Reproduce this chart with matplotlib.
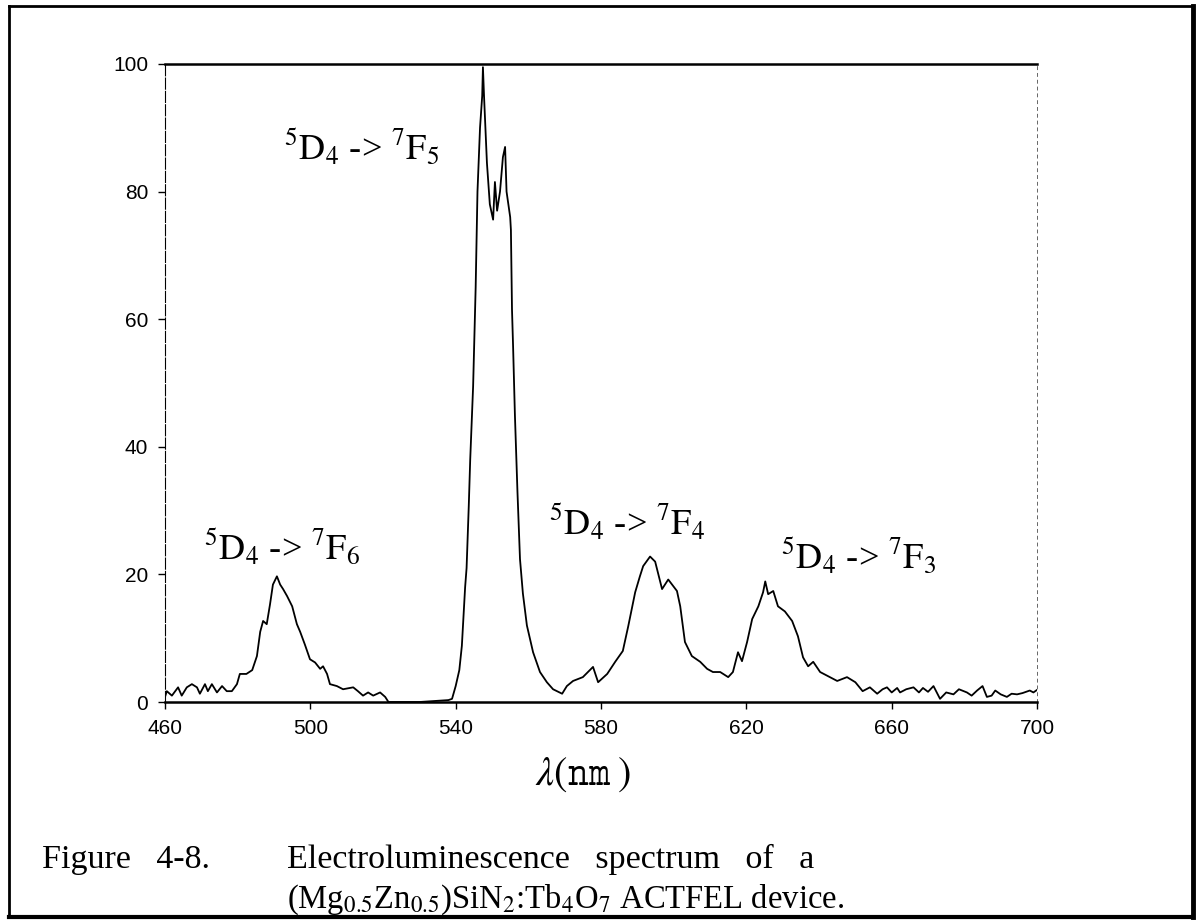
import matplotlib
matplotlib.use("Agg")
import matplotlib.pyplot as plt
from matplotlib.lines import Line2D

plt.rcParams["mathtext.fontset"] = "stix"

# EL spectrum (wavelength nm, intensity a.u.)
wavelength = [
    460, 460.5, 461.9, 463.6, 464.6, 466, 467.4, 468.8, 469.6, 471, 471.8, 472.9,
    474.3, 475.7, 477, 478.4, 479.8, 480.6, 482.4, 484, 485.3, 486.2, 487, 488,
    488.9, 489.7, 490.8, 491.7, 492.5, 493.6, 495, 496.3, 497.2, 498.5, 499.9,
    501.3, 502.7, 503.5, 504.6, 505.4, 507.3, 509, 511.8, 513.1, 514.5, 515.9,
    517.3, 519.2, 520.6, 521.5, 530, 538, 539, 540, 541, 541.7, 542.6, 543,
    543.6, 544, 544.8, 545.5, 546, 546.7, 547.3, 547.5, 547.8, 548.6, 549.4,
    550.3, 550.8, 551.4, 552.2, 553, 553.6, 554, 555, 555.2, 555.5, 555.8, 556.3,
    557, 557.7, 558.5, 559.6, 561.3, 563.2, 565.1, 566.8, 569.3, 570.6, 572.3,
    575, 577.8, 579.2, 581.7, 583.9, 586, 587.5, 588.8, 589.4, 590.7, 591.6,
    593.5, 594.9, 596.8, 598.5, 600.9, 601.8, 603.1, 605, 607.3, 609.2, 610.8,
    612.8, 615, 616.3, 617.7, 618.8, 620.2, 621.6, 623.3, 624.6, 625.2, 626,
    627.4, 628.7, 630.6, 632.6, 634.2, 635.6, 637, 638.4, 640.3, 643, 645,
    647.7, 650, 652, 654, 656, 657.5, 658.7, 660, 661.5, 662.3, 664, 666, 667.5,
    668.6, 670, 671.5, 673.3, 675, 677, 678.5, 680.7, 682, 683.5, 685, 686.2,
    687.5, 688.5, 690, 691.7, 693, 694.5, 696, 698, 699, 700,
]
intensity = [
    0.8, 1.7, 1.0, 2.3, 1.0, 2.3, 2.8, 2.3, 1.3, 2.8, 1.7, 2.8,
    1.5, 2.5, 1.7, 1.7, 2.8, 4.4, 4.4, 5.0, 7.2, 11.0, 12.7, 12.2,
    15.3, 18.4, 19.7, 18.4, 17.7, 16.6, 15.0, 12.2, 11.0, 9.0, 6.7,
    6.2, 5.2, 5.6, 4.4, 2.8, 2.5, 2.0, 2.3, 1.7, 1.0, 1.5,
    1.0, 1.5, 0.8, 0.0, 0.0, 0.3, 0.5, 2.5, 5.0, 8.8, 18.0, 21.0,
    30.7, 38.0, 49.5, 65.0, 80.0, 90.0, 95.0, 99.5, 95.0, 84.5, 78.0,
    75.6, 81.5, 77.0, 80.0, 85.4, 87.0, 80.0, 76.0, 74.0, 61.5, 55.7, 45.0,
    33.0, 22.4, 17.0, 12.0, 7.8, 4.7, 3.1, 2.0, 1.3, 2.5, 3.3,
    3.9, 5.5, 3.1, 4.4, 6.3, 8.0, 11.9, 15.5, 17.2, 19.7, 21.3,
    22.8, 22.0, 17.7, 19.2, 17.4, 15.0, 9.4, 7.2, 6.3, 5.2, 4.7,
    4.7, 3.9, 4.7, 7.8, 6.4, 9.4, 13.0, 15.0, 17.2, 18.9, 16.9,
    17.4, 15.0, 14.2, 12.7, 10.3, 7.0, 5.6, 6.3, 4.7, 3.9, 3.3,
    3.9, 3.1, 1.7, 2.3, 1.3, 2.0, 2.3, 1.5, 2.2, 1.5, 2.0, 2.3, 1.5,
    2.2, 1.6, 2.5, 0.5, 1.5, 1.2, 2.0, 1.5, 1.0, 1.8, 2.5, 0.8,
    1.0, 1.8, 1.2, 0.8, 1.3, 1.2, 1.4, 1.8, 1.5, 1.9,
]

transitions = [r"$\mathrm{^5D_4}$ -> $\mathrm{^7F_6}$",
               r"$\mathrm{^5D_4}$ -> $\mathrm{^7F_5}$",
               r"$\mathrm{^5D_4}$ -> $\mathrm{^7F_4}$",
               r"$\mathrm{^5D_4}$ -> $\mathrm{^7F_3}$"]
label_x = [492.2, 514.0, 587.2, 650.8]
label_y = [24.3, 87.0, 28.2, 22.9]

xticks = [460, 500, 540, 580, 620, 660, 700]
yticks = [0, 20, 40, 60, 80, 100]

fig = plt.figure(figsize=(12, 9.22), dpi=100)
ax = fig.add_axes([0.1375, 0.2386, 0.7267, 0.692])

ax.plot(wavelength, intensity, color="black", lw=1.3)
ax.set_xlim(460, 700)
ax.set_ylim(0, 100)
ax.set_xticks(xticks)
ax.set_yticks(yticks)
ax.tick_params(direction="out", length=5, width=1, labelsize=15, pad=7)
for lab in ax.get_xticklabels() + ax.get_yticklabels():
    lab.set_family("Liberation Sans")

ax.spines["top"].set_linewidth(1.8)
ax.spines["bottom"].set_linewidth(1.8)
ax.spines["left"].set_linewidth(0.8)
ax.spines["left"].set_linestyle((0, (10, 2)))
ax.spines["right"].set_linewidth(0.7)
ax.spines["right"].set_linestyle((0, (3, 4)))
ax.spines["right"].set_color("0.4")

for txt, x, y in zip(transitions, label_x, label_y):
    ax.text(x, y, txt, ha="center", va="center", fontsize=26,
            family="Liberation Serif")

fig.text(0.486, 0.16, r"$\lambda\left(\mathtt{nm}\;\right)$", ha="center",
         va="center", fontsize=29)

fig.text(0.035, 0.068, "Figure   4-8.", ha="left", va="center", fontsize=24.5,
         family="Liberation Serif")
fig.text(0.239, 0.068, "Electroluminescence   spectrum   of   a", ha="left",
         va="center", fontsize=24.5, family="Liberation Serif")
fig.text(0.239, 0.024,
         r"(Mg$_{0.5}$Zn$_{0.5}$)SiN$_2$:Tb$_4$O$_7$ ACTFEL device.",
         ha="left", va="center", fontsize=23.5, family="Liberation Serif")

# outer frame round the figure, heavier on the right and bottom
fig.add_artist(Line2D([0.0075, 0.994], [0.9935, 0.9935], color="black", lw=2))
fig.add_artist(Line2D([0.0075, 0.0075], [0.0054, 0.9935], color="black", lw=2))
fig.add_artist(Line2D([0.994, 0.994], [0.0054, 0.9935], color="black", lw=3.5))
fig.add_artist(Line2D([0.0075, 0.994], [0.0054, 0.0054], color="black", lw=3))

fig.savefig("out.png", dpi=100)
